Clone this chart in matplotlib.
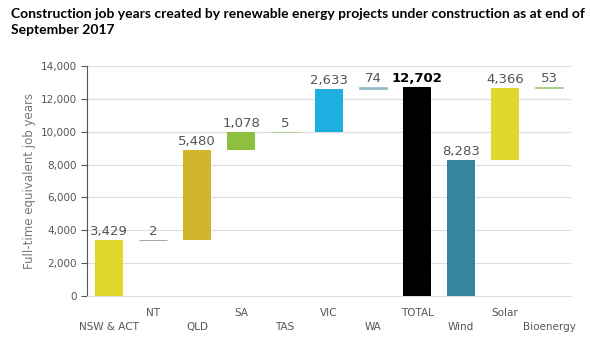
import matplotlib
matplotlib.use("Agg")
import matplotlib.pyplot as plt
import numpy as np

categories = ["NSW & ACT", "NT", "QLD", "SA", "TAS", "VIC", "WA",
              "TOTAL", "Wind", "Solar", "Bioenergy"]
values = [3429, 2, 5480, 1078, 5, 2633, 74, 12702, 8283, 4366, 53]
# bases of the floating bars (waterfall)
bases = [0, 3429, 3431, 8911, 9989, 9994, 12627, 0, 0, 8283, 12649]
colors = ["#e0d82e", "#808080", "#d1b52a", "#8cc03e", "#9cc87a", "#1eafe0",
          "#8fbcc8", "#000000", "#35869c", "#e0d82e", "#9cc87a"]
yticks = [0, 2000, 4000, 6000, 8000, 10000, 12000, 14000]

fig = plt.figure(figsize=(5.9, 3.52), dpi=100)
ax = fig.add_axes([0.1475, 0.159, 0.8205, 0.6535])

x = np.arange(len(categories))
for i in range(len(categories)):
    small = values[i] < 200
    ax.bar(x[i], values[i], bottom=bases[i], width=0.64, color=colors[i],
           edgecolor=colors[i] if small else "none",
           linewidth=0.5 if small else 0, zorder=3)
    top = bases[i] + values[i]
    if categories[i] == "TOTAL":
        ax.text(x[i], top + 120, f"{values[i]:,}", ha="center", va="bottom",
                fontsize=9.5, fontweight="bold", color="black")
    else:
        ax.text(x[i], top + 120, f"{values[i]:,}", ha="center", va="bottom",
                fontsize=9.5, color="#555555")

ax.set_xlim(-0.5, 10.5)
ax.set_ylim(0, 14000)
ax.set_yticks(yticks)
ax.set_yticklabels([f"{t:,}" for t in yticks], fontsize=7.5, color="#555555")
ax.yaxis.grid(True, color="#dddddd", linewidth=0.8, zorder=0)
ax.set_axisbelow(True)

ax.set_xticks(x)
ax.set_xticklabels([])
ax.tick_params(axis="x", length=0)
for i, name in enumerate(categories):
    yoff = -0.075 if i % 2 == 1 else -0.135
    ax.text(x[i], yoff, name, transform=ax.get_xaxis_transform(),
            ha="center", va="center", fontsize=7.5, color="#555555")

ax.tick_params(axis="y", length=4, color="#555555", width=0.8)
for s in ["top", "right"]:
    ax.spines[s].set_visible(False)
ax.spines["left"].set_color("#555555")
ax.spines["bottom"].set_color("#dddddd")

ax.set_ylabel("Full-time equivalent job years", fontsize=8.5, color="#777777",
              labelpad=3)

fig.text(0.019, 0.978, "Construction job years created by renewable energy projects under construction as at end of\nSeptember 2017",
         ha="left", va="top", fontsize=10, fontweight="bold", family="Lato",
         linespacing=1.45)

fig.savefig("out.png", dpi=100)
